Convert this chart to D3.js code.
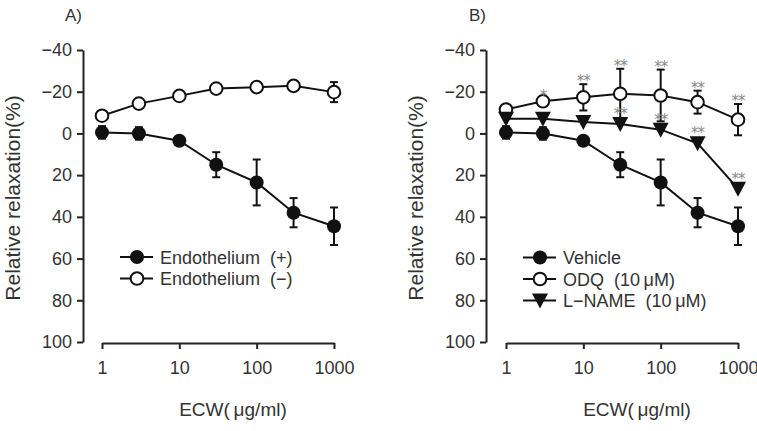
<!DOCTYPE html>
<html>
<head>
<meta charset="utf-8">
<script src="https://cdn.jsdelivr.net/npm/d3@7"></script>
<style>
  body { margin: 0; background: #fff; }
  text { font-family: "Liberation Sans", Arial, sans-serif; fill: #333; white-space: pre; }
</style>
</head>
<body>
<div id="chart"></div>
<script>
// doses of ECW (ug/ml)
const doses = [1, 3, 10, 30, 100, 300, 1000];
const xTicks = [1, 10, 100, 1000];
const yTicks = [-40, -20, 0, 20, 40, 60, 80, 100];

// panel A
const endoPlus = [-0.5, 0, 3.5, 15, 23.5, 38, 44.5];
const endoPlusErr = [3, 3, 1, 6, 11, 7, 9];
const endoMinus = [-8.5, -14.3, -18, -21.5, -22.2, -22.8, -19.8];
const endoMinusErr = [1, 1, 1, 1, 1, 1, 4.8];

// panel B
const vehicle = [-0.5, 0, 3.5, 15, 23.5, 38, 44.5];
const vehicleErr = [3, 3, 1, 6, 11, 7, 9];
const odq = [-11.5, -15.4, -17.3, -19, -18.2, -15, -6.6];
const odqErr = [1, 1, 6.3, 12, 12.4, 5.5, 7.5];
const odqStars = ["", "*", "**", "**", "**", "**", "**"];
const lname = [-7, -7, -5.5, -4.5, -1.8, 4.7, 26.5];
const lnameErr = [0, 0, 0, 0, 0, 0, 0];
const lnameStars = ["", "", "", "**", "**", "**", "**"];

const W = 757, H = 431;
const svg = d3.select("#chart").append("svg")
  .attr("width", W).attr("height", H);

const yScale = d3.scaleLinear().domain([-40, 100]).range([50, 342]);

function fmt(v) { return v < 0 ? "\u2212" + Math.abs(v) : String(v); }

function marker(g, type, x, y) {
  if (type === "tri") {
    g.append("path")
      .attr("d", "M-8,-7L8,-7L0,8Z")
      .attr("transform", `translate(${x},${y})`)
      .attr("fill", "#111");
  } else {
    g.append("circle")
      .attr("cx", x).attr("cy", y).attr("r", type === "open" ? 6.3 : 7)
      .attr("fill", type === "open" ? "#fff" : "#111")
      .attr("stroke", "#111").attr("stroke-width", type === "open" ? 2 : 0);
  }
}

function drawPanel(p) {
  const g = svg.append("g");
  const xScale = d3.scaleLog().domain([1, 1000]).range([p.x0, p.x0 + 232]);

  // y axis
  const yAxis = d3.axisLeft(yScale).tickValues(yTicks).tickFormat(fmt)
    .tickSizeOuter(0).tickSizeInner(6).tickPadding(5);
  const ya = g.append("g").attr("transform", `translate(${p.yAxisX},0)`).call(yAxis);
  ya.selectAll("path, line").attr("stroke", "#222").attr("stroke-width", 2);
  ya.selectAll("text").style("font-size", "18px").style("font-family", "Liberation Sans, Arial").attr("fill", "#333");

  // x axis
  const xAxis = d3.axisBottom(xScale).tickValues(xTicks).tickFormat(d3.format("d"))
    .tickSizeOuter(0).tickSizeInner(6).tickPadding(12);
  const xa = g.append("g").attr("transform", "translate(0,343)").call(xAxis);
  xa.selectAll("path, line").attr("stroke", "#222").attr("stroke-width", 2);
  xa.selectAll("text").style("font-size", "18px").style("font-family", "Liberation Sans, Arial").attr("fill", "#333");

  // labels
  g.append("text").attr("x", p.labelX).attr("y", 21)
    .style("font-size", "17px").text(p.label);
  g.append("text").attr("x", xScale(31.6) + 15).attr("y", 416)
    .attr("text-anchor", "middle").style("font-size", "19px").text("ECW(\u2009\u03bcg/ml)");
  g.append("text")
    .attr("transform", `translate(${p.yAxisX - 63},198) rotate(-90)`)
    .attr("text-anchor", "middle").style("font-size", "21px").attr("fill", "#555")
    .text("Relative relaxation(%)");

  const line = d3.line().x((d, i) => xScale(doses[i])).y(d => yScale(d));

  p.series.forEach(s => {
    g.append("path").datum(s.values)
      .attr("d", line).attr("fill", "none")
      .attr("stroke", "#111").attr("stroke-width", 2);
    s.values.forEach((v, i) => {
      const e = s.err[i];
      if (e <= 0) return;
      const x = xScale(doses[i]);
      const y1 = yScale(v - e), y2 = yScale(v + e);
      g.append("line").attr("x1", x).attr("x2", x).attr("y1", y1).attr("y2", y2)
        .attr("stroke", "#111").attr("stroke-width", 2);
      [y1, y2].forEach(yy => g.append("line")
        .attr("x1", x - 4).attr("x2", x + 4).attr("y1", yy).attr("y2", yy)
        .attr("stroke", "#111").attr("stroke-width", 2));
    });
    s.values.forEach((v, i) => marker(g, s.type, xScale(doses[i]), yScale(v)));
  });

  // significance marks
  p.series.forEach(s => {
    if (!s.stars) return;
    s.values.forEach((v, i) => {
      if (!s.stars[i]) return;
      const top = s.type === "tri" ? yScale(v) - 7 : yScale(v - s.err[i]);
      g.append("text").attr("x", xScale(doses[i])).attr("y", top + 2)
        .attr("text-anchor", "middle")
        .style("fill", "#888").style("font-family", "DejaVu Sans")
        .style("font-size", "15px").style("letter-spacing", "-1px")
        .text(s.stars[i]);
    });
  });

  // legend
  p.series.forEach((s, i) => {
    const ly = p.legendY + i * 21.5;
    g.append("line").attr("x1", p.legendX - 17).attr("x2", p.legendX + 16)
      .attr("y1", ly).attr("y2", ly).attr("stroke", "#111").attr("stroke-width", 2);
    marker(g, s.type, p.legendX, ly);
    g.append("text").attr("x", p.legendX + 23).attr("y", ly + 6.5)
      .style("font-size", "18px").text(s.name);
  });
}

drawPanel({
  x0: 102, yAxisX: 83, label: "A)", labelX: 65, legendX: 137, legendY: 257,
  series: [
    { name: "Endothelium  (+)", type: "filled", values: endoPlus, err: endoPlusErr },
    { name: "Endothelium  (\u2212)", type: "open", values: endoMinus, err: endoMinusErr }
  ]
});

drawPanel({
  x0: 506, yAxisX: 486, label: "B)", labelX: 469, legendX: 540, legendY: 257.5,
  series: [
    { name: "Vehicle", type: "filled", values: vehicle, err: vehicleErr },
    { name: "ODQ  (10\u2009\u03bcM)", type: "open", values: odq, err: odqErr, stars: odqStars },
    { name: "L\u2212NAME  (10\u2009\u03bcM)", type: "tri", values: lname, err: lnameErr, stars: lnameStars }
  ]
});
</script>
</body>
</html>
